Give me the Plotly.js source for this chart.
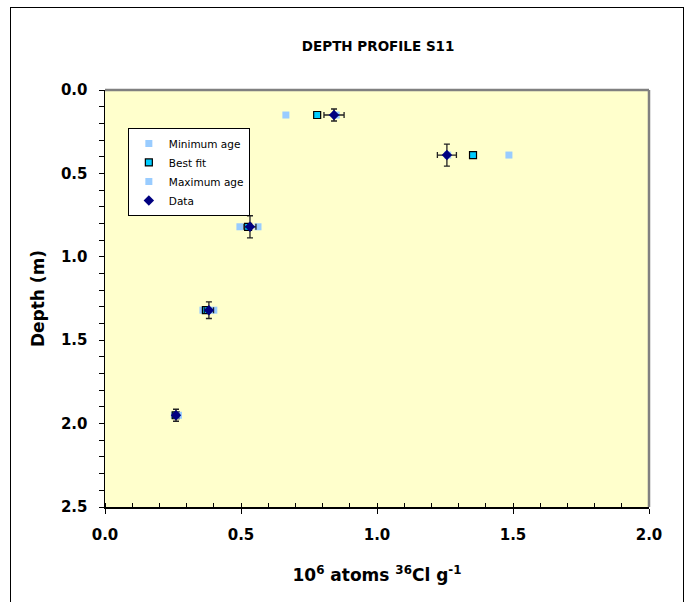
<!DOCTYPE html>
<html>
<head>
<meta charset="utf-8">
<script src="https://cdn.plot.ly/plotly-3.0.1.min.js"></script>
<style>
  html, body { margin: 0; padding: 0; background: #fff; overflow: hidden; }
  #wrap { position: relative; width: 685px; height: 602px; overflow: hidden; }
  #chart { position: absolute; left: 0; top: 0; width: 685px; height: 602px; }
  #frame { position: absolute; left: 10px; top: 7px; width: 672px; height: 640px;
           border: 1px solid #000; pointer-events: none; }
</style>
</head>
<body>
<div id="wrap">
  <div id="chart"></div>
  <div id="frame"></div>
</div>
<script>
// Depth (m)
const depth = [0.15, 0.39, 0.82, 1.32, 1.95];
// 10^6 atoms 36Cl g^-1
const dataX = [0.842, 1.257, 0.533, 0.382, 0.261];
const dataErrX = [0.037, 0.035, 0.022, 0.017, 0.010];
const dataErrY = [0.036, 0.066, 0.066, 0.050, 0.036];
const bestFitX = [0.78, 1.353, 0.526, 0.371, 0.260];
const minAgeX = [0.665, 1.26, 0.496, 0.360, 0.255];
const maxAgeX = [0.85, 1.485, 0.5625, 0.400, 0.270];

const xTickVals = [0, 0.5, 1.0, 1.5, 2.0];
const xTickText = ['0.0', '0.5', '1.0', '1.5', '2.0'];
const yTickVals = [0, 0.5, 1.0, 1.5, 2.0, 2.5];
const yTickText = ['0.0', '0.5', '1.0', '1.5', '2.0', '2.5'];

const FONT = 'Verdana, "DejaVu Sans", sans-serif';

const traces = [
  { name: 'Minimum age', x: minAgeX, y: depth, type: 'scatter', mode: 'markers',
    marker: { symbol: 'square', size: 7, color: '#99CCFF', line: { width: 0 } } },
  { name: 'Best fit', x: bestFitX, y: depth, type: 'scatter', mode: 'markers',
    marker: { symbol: 'square', size: 7, color: '#00CCFF', line: { width: 1.2, color: '#000' } } },
  { name: 'Maximum age', x: maxAgeX, y: depth, type: 'scatter', mode: 'markers',
    marker: { symbol: 'square', size: 7, color: '#99CCFF', line: { width: 0 } } },
  { name: 'Data', x: dataX, y: depth, type: 'scatter', mode: 'markers',
    marker: { symbol: 'diamond', size: 8, color: '#000080', line: { width: 0 } },
    error_x: { type: 'data', array: dataErrX, visible: true, color: '#222', thickness: 1.3, width: 3 },
    error_y: { type: 'data', array: dataErrY, visible: true, color: '#222', thickness: 1.3, width: 3 } }
];

const layout = {
  width: 685, height: 602,
  margin: { l: 105, r: 36, t: 90, b: 95 },
  paper_bgcolor: '#ffffff',
  plot_bgcolor: '#FFFFCC',
  font: { family: FONT, color: '#000' },
  title: { text: 'DEPTH PROFILE S11', font: { family: FONT, size: 13.5, weight: 'bold', color: '#000' },
           x: 0.552, xanchor: 'center', y: 0.923, yanchor: 'middle' },
  showlegend: true,
  legend: { x: 0.042, y: 0.909, xanchor: 'left', yanchor: 'top',
            bgcolor: '#ffffff', bordercolor: '#000', borderwidth: 1,
            font: { family: FONT, size: 10.5, color: '#000' },
            itemwidth: 30, tracegroupgap: 0 },
  xaxis: {
    range: [0, 2.0], tickvals: xTickVals, ticktext: xTickText,
    showgrid: false, zeroline: false, showline: true, linecolor: '#000', linewidth: 1.5,
    ticks: 'outside', ticklen: 5, tickwidth: 1, tickcolor: '#000',
    ticklabelstandoff: 8,
    minor: { dtick: 0.1, ticks: 'inside', ticklen: 4, tickwidth: 1, tickcolor: '#000', showgrid: false },
    tickfont: { family: FONT, size: 15, weight: 'bold', color: '#000' },
    title: { text: '10<sup>6</sup> atoms <sup>36</sup>Cl g<sup>-1</sup>',
             font: { family: FONT, size: 17, weight: 'bold', color: '#000' }, standoff: 26 },
    fixedrange: true
  },
  yaxis: {
    range: [2.5, 0], tickvals: yTickVals, ticktext: yTickText,
    showgrid: false, zeroline: false, showline: true, linecolor: '#000', linewidth: 1.5,
    ticks: 'outside', ticklen: 5, tickwidth: 1, tickcolor: '#000',
    ticklabelstandoff: 8,
    minor: { dtick: 0.1, ticks: 'outside', ticklen: 5, tickwidth: 1, tickcolor: '#000', showgrid: false },
    tickfont: { family: FONT, size: 15, weight: 'bold', color: '#000' },
    title: { text: 'Depth (m)', font: { family: FONT, size: 17, weight: 'bold', color: '#000' }, standoff: 12 },
    fixedrange: true
  },
  shapes: [
    { type: 'line', xref: 'paper', yref: 'paper', x0: 0, x1: 1, y0: 1, y1: 1,
      line: { color: '#808080', width: 2.5 } },
    { type: 'line', xref: 'paper', yref: 'paper', x0: 1, x1: 1, y0: 0, y1: 1,
      line: { color: '#808080', width: 2.5 } }
  ]
};

Plotly.newPlot('chart', traces, layout, { displayModeBar: false, staticPlot: true });
</script>
</body>
</html>
